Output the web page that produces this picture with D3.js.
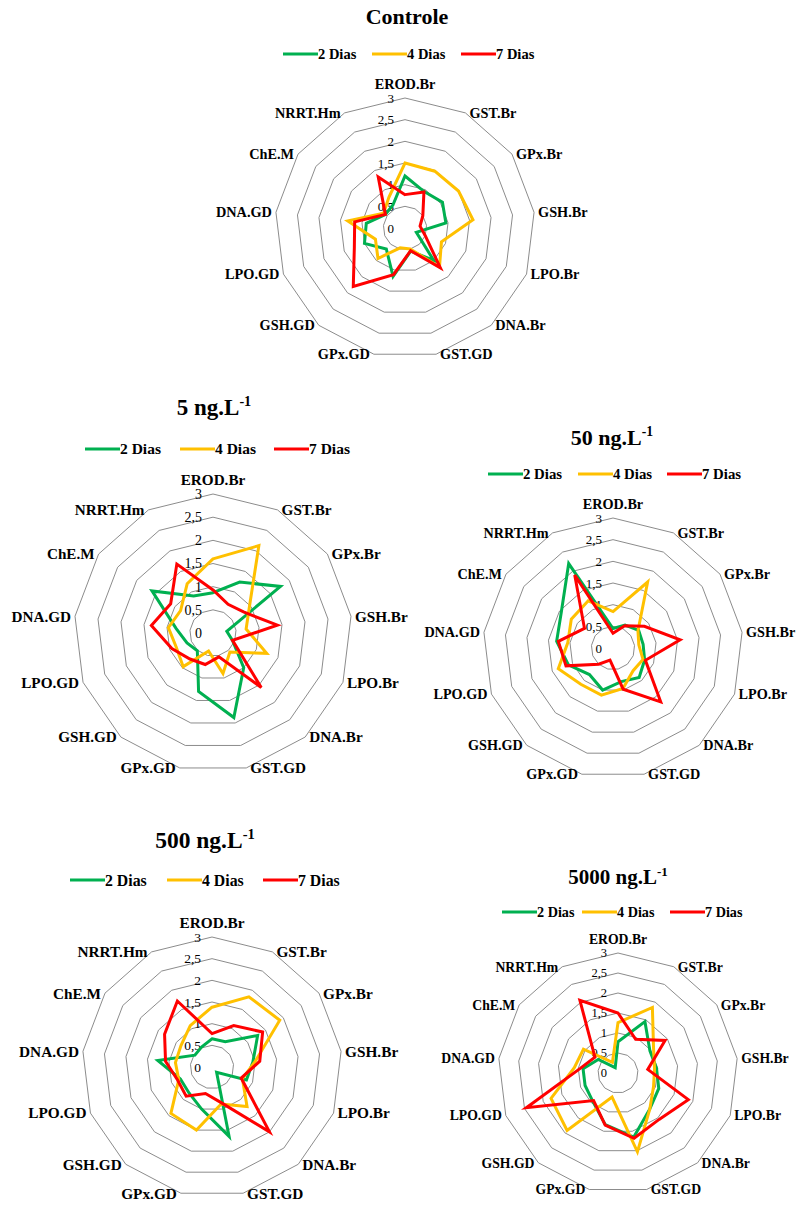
<!DOCTYPE html>
<html>
<head>
<meta charset="utf-8">
<script src="https://cdn.jsdelivr.net/npm/d3@7"></script>
<style>
  body { margin: 0; background: #ffffff; }
  text { font-family: "Liberation Serif", "Times New Roman", serif; fill: #000; }
</style>
</head>
<body>
<svg id="chart" width="798" height="1209"></svg>
<script>
// categories (clockwise from the top)
const categories = ["EROD.Br", "GST.Br", "GPx.Br", "GSH.Br", "LPO.Br", "DNA.Br",
  "GST.GD", "GPx.GD", "GSH.GD", "LPO.GD", "DNA.GD", "ChE.M", "NRRT.Hm"];
const seriesNames = ["2 Dias", "4 Dias", "7 Dias"];
const tickValues = [0, 0.5, 1, 1.5, 2, 2.5, 3];
const tickLabels = ["0", "0,5", "1", "1,5", "2", "2,5", "3"];
const panelTitles = ["Controle", "5 ng.L", "50 ng.L", "500 ng.L", "5000 ng.L"];
const titleExponents = ["", "-1", "-1", "-1", "-1"];

// values
const controle2 = [1.2, 0.95, 1.05, 0.95, 0.28, 1.0, 0.55, 1.15, 0.65, 1.0, 0.9, 0.55, 0.6];
const controle4 = [1.5, 1.48, 1.5, 1.58, 0.9, 1.2, 0.5, 0.47, 0.94, 0.73, 1.33, 0.6, 0.8];
const controle7 = [0.77, 0.94, 0.5, 0.35, 0.5, 1.23, 0.54, 1.11, 1.8, 1.25, 1.17, 0.55, 1.33];

const ng5_2 = [0.87, 1.24, 1.77, 0.3, 0.45, 1.0, 1.88, 1.3, 0.51, 0.6, 0.8, 1.6, 0.9];
const ng5_4 = [1.6, 2.13, 0.95, 0.72, 1.24, 0.55, 0.9, 0.4, 0.97, 0.85, 0.97, 0.85, 1.2];
const ng5_7 = [0.93, 0.7, 0.8, 1.4, 0.45, 1.57, 0.53, 0.7, 0.75, 0.95, 1.34, 1.11, 1.68];

const ng50_2 = [0.45, 0.6, 0.72, 0.7, 0.78, 0.91, 0.8, 1.0, 0.82, 1.1, 1.31, 1.45, 2.2];
const ng50_4 = [0.84, 1.72, 0.7, 0.6, 0.74, 0.7, 0.96, 1.12, 1.12, 1.35, 1.05, 1.17, 1.23];
const ng50_7 = [0.34, 0.58, 0.88, 1.56, 0.8, 1.66, 0.98, 0.29, 0.5, 1.16, 1.27, 0.8, 1.9];

const ng500_2 = [0.65, 0.66, 1.28, 0.95, 0.85, 0.16, 1.65, 1.0, 0.8, 0.78, 1.26, 0.48, 0.52];
const ng500_4 = [1.38, 1.83, 1.9, 1.0, 0.75, 1.22, 0.88, 1.5, 1.43, 0.82, 0.85, 0.87, 1.08];
const ng500_7 = [0.77, 1.08, 1.42, 1.11, 0.72, 2.0, 0.84, 0.63, 0.9, 0.85, 1.08, 1.33, 1.72];

const ng5000_2 = [0.78, 1.45, 0.97, 0.97, 1.09, 1.2, 1.65, 1.33, 0.95, 0.88, 0.88, 0.6, 0.15];
const ng5000_4 = [1.26, 1.85, 1.08, 0.92, 0.95, 1.2, 2.03, 0.62, 1.92, 1.79, 1.1, 1.05, 0.3];
const ng5000_7 = [1.5, 0.95, 1.43, 0.75, 1.88, 1.55, 1.68, 1.34, 0.92, 2.45, 0.95, 0.7, 2.05];

const colors = ["#00b050", "#ffc000", "#ff0000"];

// layout of each panel
const panels = [
  { data: [controle2, controle4, controle7], cx: 405, cy: 228, R: 130,
    titleX: 407, titleY: 24, titleSize: 22, legendY: 54, legendX: [283, 372, 461], legendSize: 14.5,
    lblSize: 14.3, tickSize: 13 },
  { data: [ng5_2, ng5_4, ng5_7], cx: 213, cy: 633, R: 139,
    titleX: 214, titleY: 415, titleSize: 23, legendY: 449, legendX: [85, 180, 274], legendSize: 15.5,
    lblSize: 15.2, tickSize: 14 },
  { data: [ng50_2, ng50_4, ng50_7], cx: 613, cy: 648, R: 130,
    titleX: 612, titleY: 445, titleSize: 22, legendY: 474, legendX: [488, 578, 667], legendSize: 14.8,
    lblSize: 14.2, tickSize: 13 },
  { data: [ng500_2, ng500_4, ng500_7], cx: 212, cy: 1067, R: 130,
    titleX: 205, titleY: 848, titleSize: 23.5, legendY: 880, legendX: [70, 167, 263], legendSize: 15.8,
    lblSize: 15.3, tickSize: 13.5 },
  { data: [ng5000_2, ng5000_4, ng5000_7], cx: 618, cy: 1073, R: 120,
    titleX: 618, titleY: 884, titleSize: 21, legendY: 912, legendX: [502, 582, 670], legendSize: 14.2,
    lblSize: 13.7, tickSize: 12.5 }
];

const svg = d3.select("#chart");
svg.append("rect").attr("width", 798).attr("height", 1209).attr("fill", "#ffffff");

const angle = d3.scaleLinear().domain([0, categories.length]).range([0, 2 * Math.PI]);

panels.forEach(function(p, k) {
  const g = svg.append("g").attr("transform", `translate(${p.cx},${p.cy})`);
  const r = d3.scaleLinear().domain([0, 3]).range([0, p.R]);

  // rings
  const ring = d3.lineRadial()
    .angle((d, i) => angle(i))
    .radius(d => r(d))
    .curve(d3.curveLinearClosed);
  g.selectAll(".ring")
    .data(tickValues.filter(v => v > 0))
    .enter().append("path")
    .attr("class", "ring")
    .attr("d", v => ring(categories.map(() => v)))
    .attr("fill", "none")
    .attr("stroke", "#8c8c8c")
    .attr("stroke-width", 1);

  // tick labels
  g.selectAll(".tick")
    .data(tickValues)
    .enter().append("text")
    .attr("class", "tick")
    .attr("x", -11)
    .attr("y", v => -r(v))
    .attr("dy", "0.35em")
    .attr("text-anchor", "end")
    .style("font-size", p.tickSize + "px")
    .text((v, i) => tickLabels[i]);

  // category labels
  g.selectAll(".cat")
    .data(categories)
    .enter().append("text")
    .attr("class", "cat")
    .each(function(c, i) {
      const a = angle(i);
      const sx = Math.sin(a), sy = -Math.cos(a);
      const el = d3.select(this);
      if (Math.abs(sx) < 0.05) {
        el.attr("x", 0).attr("y", -p.R - 14).attr("text-anchor", "middle");
      } else {
        el.attr("x", p.R * sx + (sx > 0 ? 4 : -4))
          .attr("y", p.R * sy)
          .attr("text-anchor", sx > 0 ? "start" : "end");
      }
    })
    .attr("dy", "0.35em")
    .style("font-size", p.lblSize + "px")
    .style("font-weight", "bold")
    .text(c => c);

  // series
  const line = d3.lineRadial()
    .angle((d, i) => angle(i))
    .radius(d => r(d))
    .curve(d3.curveLinearClosed);
  g.selectAll(".series")
    .data(p.data)
    .enter().append("path")
    .attr("class", "series")
    .attr("d", d => line(d))
    .attr("fill", "none")
    .attr("stroke", (d, i) => colors[i])
    .attr("stroke-width", 3)
    .attr("stroke-linejoin", "miter");

  // title
  const t = svg.append("text")
    .attr("x", p.titleX)
    .attr("y", p.titleY)
    .attr("text-anchor", "middle")
    .style("font-size", p.titleSize + "px")
    .style("font-weight", "bold");
  t.append("tspan").text(panelTitles[k]);
  if (titleExponents[k]) {
    t.append("tspan")
      .attr("dy", -p.titleSize * 0.4)
      .style("font-size", (p.titleSize * 0.62) + "px")
      .text(titleExponents[k]);
  }

  // legend
  const lg = svg.append("g");
  seriesNames.forEach(function(name, i) {
    const x = p.legendX[i];
    lg.append("line")
      .attr("x1", x).attr("x2", x + 35)
      .attr("y1", p.legendY).attr("y2", p.legendY)
      .attr("stroke", colors[i])
      .attr("stroke-width", 3);
    lg.append("text")
      .attr("x", x + 35)
      .attr("y", p.legendY)
      .attr("dy", "0.35em")
      .style("font-size", p.legendSize + "px")
      .style("font-weight", "bold")
      .text(name);
  });
});
</script>
</body>
</html>
